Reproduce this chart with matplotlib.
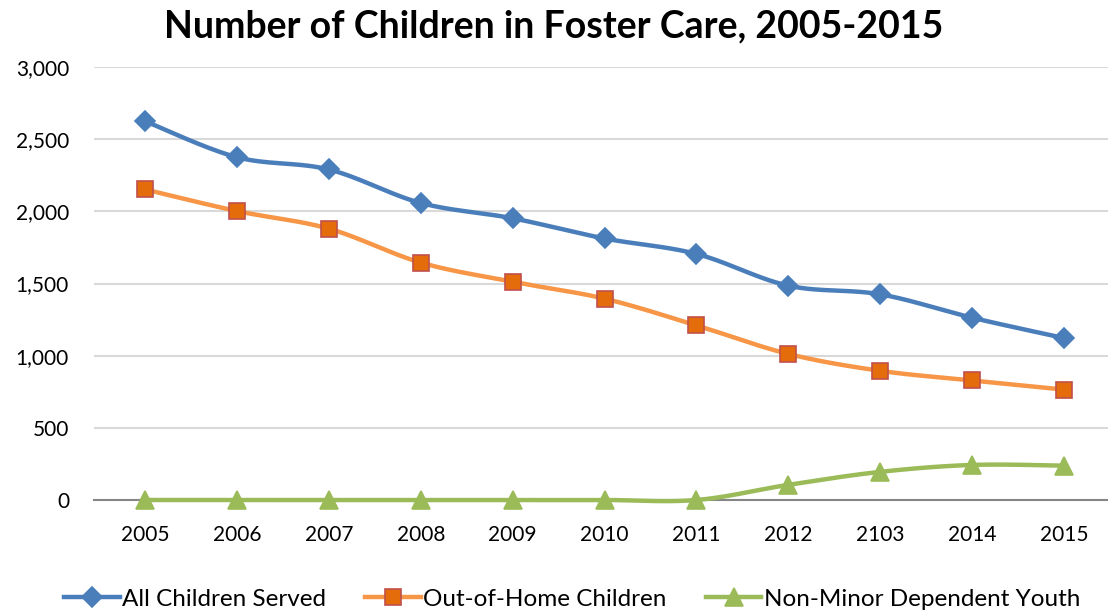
import numpy as np
import matplotlib
matplotlib.use("Agg")
import matplotlib.pyplot as plt
from matplotlib.ticker import FuncFormatter

years = ["2005", "2006", "2007", "2008", "2009", "2010", "2011", "2012", "2103", "2014", "2015"]
all_children = [2625, 2375, 2290, 2058, 1952, 1812, 1705, 1485, 1425, 1263, 1122]
out_of_home = [2152, 2002, 1880, 1645, 1512, 1395, 1210, 1012, 895, 828, 765]
non_minor = [0, 0, 0, 0, 0, 0, 0, 105, 195, 243, 238]


def smooth(xs, ys, n=30):
    # bezier curve through points like excel's "smoothed line"
    xs = np.asarray(xs, float)
    ys = np.asarray(ys, float)
    px = np.concatenate([[xs[0]], xs, [xs[-1]]])
    py = np.concatenate([[ys[0]], ys, [ys[-1]]])
    out_x, out_y = [], []
    t = np.linspace(0, 1, n)
    for i in range(1, len(px) - 2):
        p0 = np.array([px[i], py[i]])
        p3 = np.array([px[i + 1], py[i + 1]])
        c1 = p0 + (np.array([px[i + 1], py[i + 1]]) - np.array([px[i - 1], py[i - 1]])) / 6
        c2 = p3 - (np.array([px[i + 2], py[i + 2]]) - np.array([px[i], py[i]])) / 6
        b = ((1 - t) ** 3)[:, None] * p0 + (3 * (1 - t) ** 2 * t)[:, None] * c1 \
            + (3 * (1 - t) * t ** 2)[:, None] * c2 + (t ** 3)[:, None] * p3
        out_x.extend(b[:, 0])
        out_y.extend(b[:, 1])
    return out_x, out_y


plt.rcParams['font.family'] = ['Lato', 'DejaVu Sans']

fig = plt.figure(figsize=(11.08, 6.12), dpi=100)
ax = fig.add_axes([94 / 1108, 112 / 612, 1014 / 1108, 433 / 612])

x = np.arange(len(years))
series = [
    (all_children, "All Children Served", "#4A7EBB", "D", "#4A7EBB", "#4A7EBB", 10.5),
    (out_of_home, "Out-of-Home Children", "#F79646", "s", "#E46C0A", "#C0504D", 11.5),
    (non_minor, "Non-Minor Dependent Youth", "#9BBB59", "^", "#9BBB59", "#9BBB59", 13),
]
handles = []
for vals, label, lc, mk, mfc, mec, ms in series:
    sx, sy = smooth(x, vals)
    ax.plot(sx, sy, color=lc, lw=3.2, solid_capstyle="round", zorder=3, clip_on=False)
    ax.plot(x, vals, ls="none", marker=mk, markersize=ms, markerfacecolor=mfc,
            markeredgecolor=mec, markeredgewidth=1.2, zorder=4, clip_on=False)
    h, = ax.plot([], [], color=lc, lw=3.2, marker=mk, markersize=ms,
                 markerfacecolor=mfc, markeredgecolor=mec, markeredgewidth=1.2, label=label)
    handles.append(h)

ax.set_xlim((94 - 145) / 91.9, (1108 - 145) / 91.9)
ax.set_ylim(0, 3000)
ax.set_yticks(np.arange(0, 3001, 500))
ax.yaxis.set_major_formatter(FuncFormatter(lambda v, p: f"{int(v):,}"))
ax.set_xticks(x)
ax.set_xticklabels(years)
ax.tick_params(length=0, labelsize=15, colors="#000000")
ax.tick_params(axis="y", pad=18)
ax.tick_params(axis="x", pad=18)
ax.grid(axis="y", color="#D9D9D9", lw=1.5)
ax.set_axisbelow(True)
for s in ["top", "right", "left"]:
    ax.spines[s].set_visible(False)
ax.spines["bottom"].set_color("#868686")
ax.spines["bottom"].set_linewidth(1.5)
ax.spines["bottom"].set_zorder(2)

fig.text(554 / 1108, 1 - 26 / 612, "Number of Children in Foster Care, 2005-2015",
         ha="center", va="center", fontsize=27, fontweight="bold")

fig.legend(handles=handles, loc="center", bbox_to_anchor=(572 / 1108, 1 - 599 / 612), ncol=3,
           frameon=False, fontsize=17.5, handlelength=2.3, handletextpad=0.1,
           columnspacing=1.6)

fig.savefig("out.png", dpi=100)
